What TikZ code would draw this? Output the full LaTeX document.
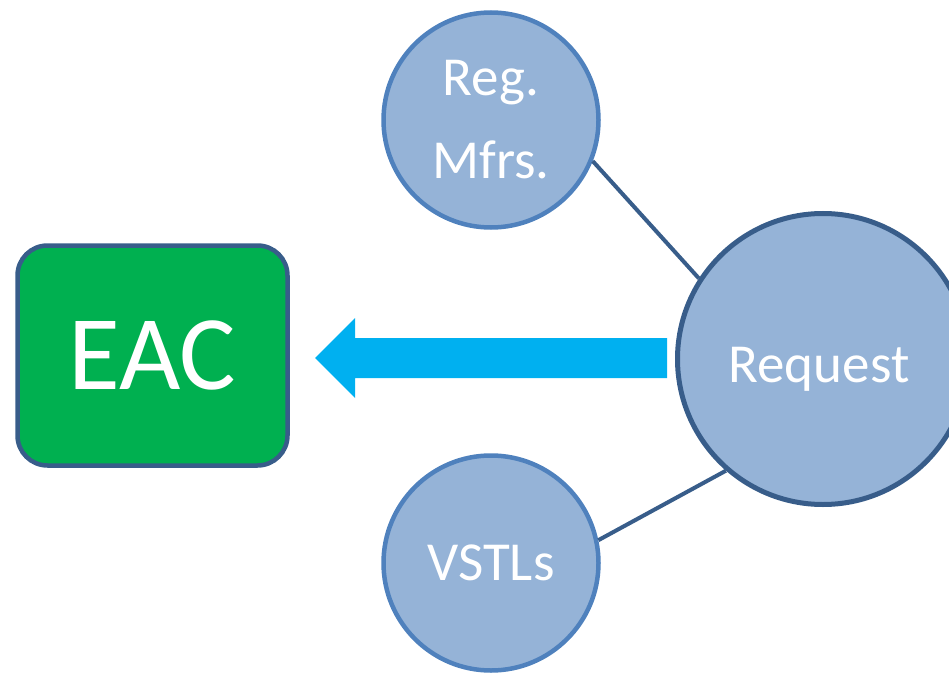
\documentclass[tikz,border=0pt]{standalone}
\usepackage{fontspec}
\setmainfont{Carlito}
\definecolor{eacgreen}{HTML}{00B050}
\definecolor{arrowblue}{HTML}{00B0F0}
\definecolor{bubblefill}{HTML}{95B3D7}
\definecolor{bubbleedge}{HTML}{4F81BD}
\definecolor{darkedge}{HTML}{385D8A}

\begin{document}
\begin{tikzpicture}[x=1pt,y=-1pt,
		bubble/.style={circle, fill=bubblefill, draw=bubbleedge, line width=4.5pt, text=white, align=center, inner sep=0pt, minimum size=215pt, font=\fontsize{55}{83}\selectfont},
		link/.style={draw=darkedge, line width=4pt},
		blockarrow/.style={fill=arrowblue}]
		\useasboundingbox (0,0) rectangle (949,676);
		\node[rectangle, rounded corners=30pt, fill=eacgreen, draw=darkedge, line width=4.5pt, minimum width=270pt, minimum height=220pt, text=white, font=\fontsize{106}{106}\selectfont] (eac) at (152.5,355.5) {EAC};
		\node[bubble] (reg) at (491,120) {Reg.\\Mfrs.};
		\node[bubble] (vstl) at (491,563) {VSTLs};
		\node[bubble, draw=darkedge, line width=5pt, minimum size=291pt, text height=46pt, text depth=0pt] (req) at (823,359) {\hspace*{-8pt}Request};
		\draw[link] (reg.-22)--(req.147);
		\draw[link] (vstl.12)--(req.229);
		\coordinate (tail) at (667,358);
		\coordinate (tip) at (315,358);
		\fill[blockarrow] ([yshift=20pt]tail)--([xshift=40pt,yshift=20pt]tip)--([xshift=40pt,yshift=40pt]tip)--(tip)--([xshift=40pt,yshift=-40pt]tip)--([xshift=40pt,yshift=-20pt]tip)--([yshift=-20pt]tail)--cycle;
		\end{tikzpicture}
\end{document}
